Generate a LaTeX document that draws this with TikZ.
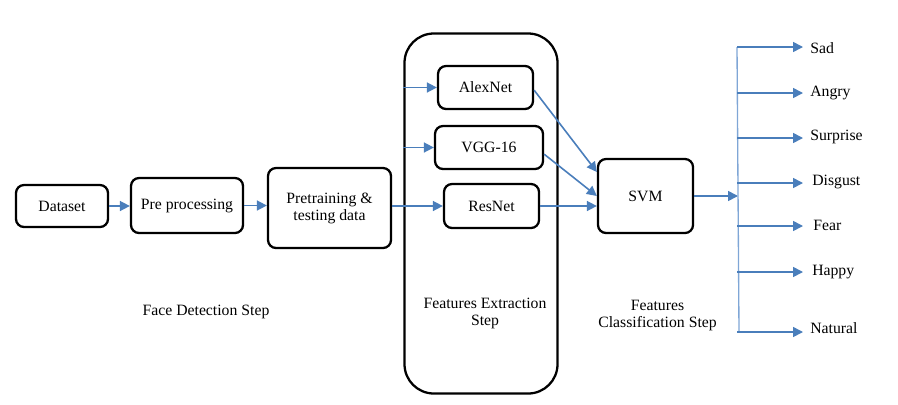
\documentclass[tikz,border=0pt]{standalone}
\usepackage{fontspec}
\setmainfont{Liberation Serif}
\newfontfamily\tnr{Liberation Serif}
\usetikzlibrary{arrows.meta}
\newlength\pxu
\setlength\pxu{0.75pt}
\definecolor{arrblue}{HTML}{4A7EBB}
\definecolor{lineblue}{HTML}{7FA6D6}
\begin{document}
\begin{tikzpicture}[x=0.75pt,y=-0.75pt,
  every node/.style={font=\tnr\fontsize{11.8}{12.8}\selectfont},
  box/.style={draw=black,line width=1.7pt,rounded corners=6pt,align=center,inner sep=0pt},
  conn/.style={draw=arrblue,line width=1.2pt,-{Triangle[length=7.5pt,width=7.5pt]}},
  lbl/.style={anchor=west,inner sep=0pt},
  steplabel/.style={align=center,inner sep=0pt}]
\useasboundingbox (0,0) rectangle (898,404);
% boxes
\node[box,minimum width=92\pxu,minimum height=42\pxu] (dataset) at (62,206) {Dataset};
\node[box,minimum width=112\pxu,minimum height=55\pxu] (pre) at (187,205.5) {Pre processing};
\node[box,minimum width=123\pxu,minimum height=80\pxu] (pretrain) at (329.5,208) {Pretraining \&\\testing data};
\node[box,rounded corners=22pt,minimum width=153\pxu,minimum height=360\pxu] (big) at (481,213.5) {};
\node[box,minimum width=95\pxu,minimum height=43\pxu] (alex) at (485.5,87.5) {AlexNet};
\node[box,minimum width=108\pxu,minimum height=43\pxu] (vgg) at (489,147.5) {VGG-16};
\node[box,minimum width=95\pxu,minimum height=44\pxu] (resnet) at (491.5,206) {ResNet};
\node[box,minimum width=95\pxu,minimum height=74\pxu] (svm) at (645.5,196) {SVM};
% step labels
\node[steplabel] (facestep) at (206,312) {Face Detection Step};
\node[steplabel] (extstep) at (485,313.5) {Features Extraction\\Step};
\node[steplabel] (clsstep) at (657.5,315.5) {Features\\Classification Step};
% connectors
\draw[conn] (dataset.east) -- (dataset.east -| pre.west);
\draw[conn] (pre.east) -- (pre.east -| pretrain.west);
\draw[conn] (pretrain.east |- resnet.west) -- (resnet.west);
\coordinate (inA) at (big.west |- alex.west);
\coordinate (inV) at (big.west |- vgg.west);
\draw[conn] (inA) -- (alex.west);
\draw[conn] (inV) -- (vgg.west);
\draw[conn] ([yshift=-2pt]alex.east) -- ([yshift=18pt]svm.west);
\draw[conn] ([yshift=-5pt]vgg.east) -- (svm.west);
\draw[conn] (resnet.east) -- (resnet.east -| svm.west);
% classification branch
\coordinate (branch) at (738,196);
\coordinate (vtop) at (737,47);
\coordinate (vbot) at (739,332);
\draw[conn] (svm.east) -- (branch);
\draw[draw=lineblue,line width=1pt] (vtop) -- (vbot);
\node[lbl] (sad) at (810,48) {Sad};
\node[lbl] (angry) at (810,93) {Angry};
\node[lbl] (surprise) at (810,137) {Surprise};
\node[lbl] (disgust) at (812,182) {Disgust};
\node[lbl] (fear) at (813,225) {Fear};
\node[lbl] (happy) at (812,272) {Happy};
\node[lbl] (natural) at (810,328) {Natural};
\foreach \n/\yy in {sad/47,angry/93,surprise/138,disgust/183,fear/226,happy/272,natural/332}{
  \coordinate (s\n) at (737,\yy);
  \coordinate (e\n) at (803,\yy);
  \draw[conn] (s\n) -- (e\n);
}
\end{tikzpicture}
\end{document}
